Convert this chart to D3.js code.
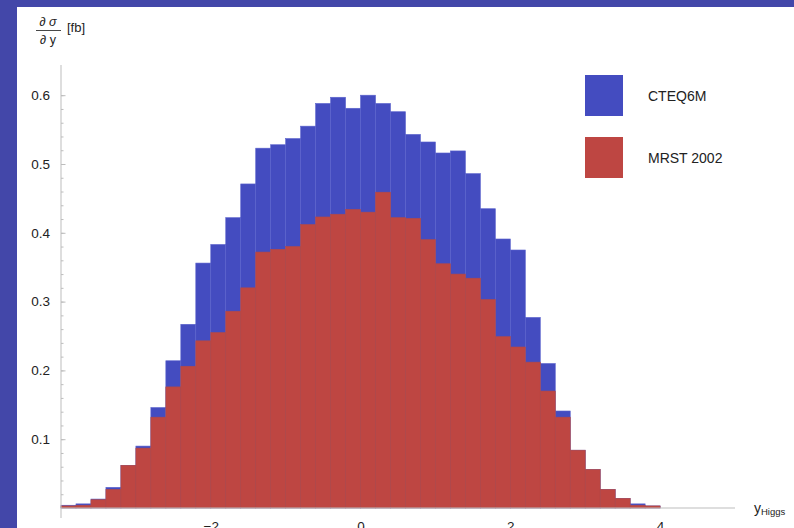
<!DOCTYPE html>
<html>
<head>
<meta charset="utf-8">
<script src="https://cdn.jsdelivr.net/npm/d3@7"></script>
<style>
  html, body { margin: 0; padding: 0; background: #4347a9; }
  svg { display: block; }
  text { font-family: "Liberation Sans", Arial, sans-serif; fill: #222; }
</style>
</head>
<body>
<svg id="chart" width="794" height="528"></svg>
<script>
// Lower edges of the rapidity bins (width 0.2)
const binStarts = [-4.0, -3.8, -3.6, -3.4, -3.2, -3.0, -2.8, -2.6, -2.4, -2.2,
                   -2.0, -1.8, -1.6, -1.4, -1.2, -1.0, -0.8, -0.6, -0.4, -0.2,
                    0.0,  0.2,  0.4,  0.6,  0.8,  1.0,  1.2,  1.4,  1.6,  1.8,
                    2.0,  2.2,  2.4,  2.6,  2.8,  3.0,  3.2,  3.4,  3.6,  3.8];
const binWidth = 0.2;

// dσ/dy [fb] per bin
const cteq6m = [0.004, 0.006, 0.013, 0.030, 0.062, 0.090, 0.146, 0.214, 0.267, 0.356,
                0.383, 0.422, 0.471, 0.523, 0.528, 0.537, 0.555, 0.588, 0.597, 0.581,
                0.600, 0.588, 0.576, 0.543, 0.532, 0.516, 0.519, 0.486, 0.435, 0.391,
                0.375, 0.277, 0.210, 0.141, 0.084, 0.056, 0.027, 0.014, 0.006, 0.003];
const mrst2002 = [0.003, 0.004, 0.012, 0.027, 0.062, 0.087, 0.132, 0.176, 0.206, 0.243,
                  0.255, 0.286, 0.320, 0.372, 0.376, 0.380, 0.412, 0.423, 0.427, 0.434,
                  0.430, 0.459, 0.422, 0.421, 0.390, 0.355, 0.340, 0.334, 0.303, 0.249,
                  0.234, 0.212, 0.170, 0.132, 0.084, 0.056, 0.027, 0.014, 0.004, 0.003];

const seriesNames = ["CTEQ6M", "MRST 2002"];
const seriesColors = ["#444cc0", "#be4642"];
const yTickLabels = [0.1, 0.2, 0.3, 0.4, 0.5, 0.6];
const yMinorTicks = d3.range(1, 31).map(d => d * 0.02);
const xTickLabels = [-2, 0, 2, 4];

const font = "'Liberation Sans', Arial, sans-serif";
const svg = d3.select("#chart");

// white panel inside the blue frame
svg.append("rect").attr("x", 17).attr("y", 7).attr("width", 777).attr("height", 521).attr("fill", "#ffffff");

const x = d3.scaleLinear().domain([-4, 5]).range([61, 735]);
const y = d3.scaleLinear().domain([0, 0.6]).range([508, 95.2]);

// histograms: CTEQ6M behind, MRST 2002 in front
[cteq6m, mrst2002].forEach((vals, si) => {
  svg.append("g").selectAll("rect")
    .data(vals.map((v, i) => ({ x0: binStarts[i], v })))
    .join("rect")
    .attr("x", d => x(d.x0))
    .attr("width", d => x(d.x0 + binWidth) - x(d.x0))
    .attr("y", d => y(d.v))
    .attr("height", d => y(0) - y(d.v))
    .attr("fill", seriesColors[si])
    .attr("stroke", si === 0 ? "#5a62cc" : "#b04a4a")
    .attr("stroke-width", 0.6);
});

// axes
const axisColor = "#bdbdbd";
svg.append("line").attr("x1", 61).attr("x2", 61).attr("y1", 65).attr("y2", 518)
  .attr("stroke", axisColor).attr("stroke-width", 1);
svg.append("line").attr("x1", 61).attr("x2", 735).attr("y1", y(0)).attr("y2", y(0))
  .attr("stroke", axisColor).attr("stroke-width", 1);

// minor ticks on the y axis
const gMinor = svg.append("g").attr("transform", "translate(61,0)")
  .call(d3.axisRight(y).tickValues(yMinorTicks).tickSize(2.5).tickFormat(""));
gMinor.select(".domain").remove();
gMinor.selectAll("line").attr("stroke", axisColor);

// major ticks
const gMajor = svg.append("g").attr("transform", "translate(61,0)")
  .call(d3.axisRight(y).tickValues(yTickLabels).tickSize(4.5).tickFormat(""));
gMajor.select(".domain").remove();
gMajor.selectAll("line").attr("stroke", axisColor);

// y tick labels
const gLabels = svg.append("g").attr("transform", "translate(61,0)")
  .call(d3.axisLeft(y).tickValues(yTickLabels).tickSize(0).tickPadding(11).tickFormat(d3.format(".1f")));
gLabels.select(".domain").remove();
gLabels.selectAll("text").style("font-family", font)
  .style("font-size", "13.5px").attr("fill", "#222");

// x tick labels (running off the lower page edge)
const gx = svg.append("g").attr("transform", `translate(0,${y(0)})`)
  .call(d3.axisBottom(x).tickValues(xTickLabels).tickSize(0).tickPadding(13)
    .tickFormat(d => d < 0 ? "\u2212" + Math.abs(d) : String(d)));
gx.select(".domain").remove();
gx.selectAll("text").style("font-family", font)
  .style("font-size", "13.5px").attr("fill", "#222");

// x axis title
const xt = svg.append("text").attr("x", 754).attr("y", 513).style("font-size", "14px");
xt.append("tspan").text("y");
xt.append("tspan").attr("dy", 2).style("font-size", "9.5px").text("Higgs");

// y axis title: ∂σ/∂y [fb]
svg.append("text").attr("x", 48).attr("y", 26).attr("text-anchor", "middle")
  .style("font-size", "12.5px").style("font-style", "italic").text("\u2202 \u03C3");
svg.append("line").attr("x1", 36).attr("x2", 61).attr("y1", 30.5).attr("y2", 30.5)
  .attr("stroke", "#333").attr("stroke-width", 0.9);
svg.append("text").attr("x", 48).attr("y", 43.5).attr("text-anchor", "middle")
  .style("font-size", "12.5px").text("\u2202 y");
svg.append("text").attr("x", 67).attr("y", 31.5).style("font-size", "13px").text("[fb]");

// legend
const legend = svg.append("g");
seriesNames.forEach((name, i) => {
  const ly = 75 + i * 62;
  legend.append("rect").attr("x", 585).attr("y", ly).attr("width", 38).attr("height", 41)
    .attr("fill", seriesColors[i]);
  legend.append("text").attr("x", 648).attr("y", ly + 26).style("font-size", "14px").text(name);
});
</script>
</body>
</html>
